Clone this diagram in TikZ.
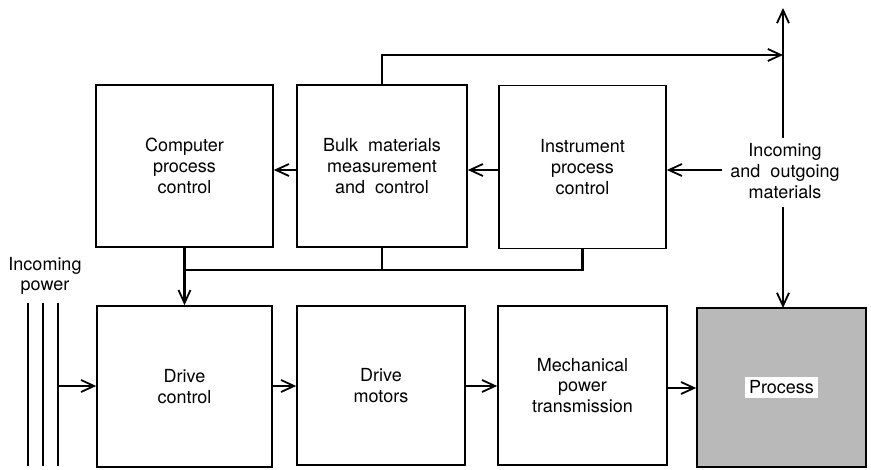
\documentclass[tikz,border=0pt]{standalone}
\usepackage{fontspec}
\setmainfont{TeX Gyre Heros}
\usetikzlibrary{arrows.meta,patterns}
\begin{document}
\begin{tikzpicture}[x=1pt,y=-1pt,
  blk/.style={draw,line width=1.6pt,inner sep=0pt,align=center,font=\fontsize{18}{20.8}\selectfont},
  conn/.style={line width=2.6pt},
  arr/.style={conn,-{Straight Barb[length=13pt,width=12pt,line width=1.8pt]}},
  lbl/.style={inner sep=0pt,align=center,font=\fontsize{18}{20.8}\selectfont}]
\useasboundingbox (0,0) rectangle (871,470);
\node[blk,minimum width=177pt,minimum height=162pt] (cpc) at (184.5,166) {Computer\\process\\control};
\node[blk,minimum width=170pt,minimum height=162pt] (bulk) at (382,166) {Bulk\ \ materials\\measurement\\and\ \ control};
\node[blk,minimum width=167pt,minimum height=163pt] (inst) at (582.5,167) {Instrument\\process\\control};
\node[blk,minimum width=175pt,minimum height=161pt] (dc) at (184.5,386.5) {Drive\\control};
\node[blk,minimum width=168pt,minimum height=159pt] (dm) at (381,385.5) {Drive\\motors};
\node[blk,minimum width=169pt,minimum height=159pt] (mpt) at (582.5,385.5) {Mechanical\\power\\transmission};
\node[blk,minimum width=169pt,minimum height=159pt,fill=gray!55] (proc) at (781.5,387.5) {};
\node[fill=white,inner sep=4pt,font=\fontsize{18}{20.8}\selectfont] (proct) at (proc.center) {Process};
\node[lbl] (mat) at (785,171) {Incoming\\and\ \ outgoing\\materials};
\node[lbl] (pow) at (45,276) {Incoming\\power};
% materials
\coordinate (top) at (783,8);
\coordinate (junc) at (783,55);
\draw[arr] (783,138) -- (top);
\draw[arr] (bulk.north) |- (junc);
\draw[arr] (783,207) -- (783,308);
\draw[arr] (722,170) -- (inst.east|-0,170);
\draw[arr] (inst.west|-0,170) -- (bulk.east|-0,170);
\draw[arr] (bulk.west|-0,170) -- (cpc.east|-0,170);
% bus
\coordinate (bus) at (0,270);
\draw[conn] (inst.south) |- (cpc.south|-bus);
\draw[conn] (bulk.south) -- (bulk.south|-bus);
\draw[arr] (cpc.south) -- (dc.north);
% power
\foreach \x/\n in {28/a,43/b,58/c} {
  \coordinate (p\n1) at (\x,303);
  \coordinate (p\n2) at (\x,466);
  \draw[line width=2.8pt] (p\n1) -- (p\n2);
}
\draw[arr] (58,386) -- (dc.west|-0,386);
\draw[arr] (dc.east|-0,386) -- (dm.west|-0,386);
\draw[arr] (dm.east|-0,386) -- (mpt.west|-0,386);
\draw[arr] (mpt.east|-0,388) -- (proc.west|-0,388);
\end{tikzpicture}
\end{document}
